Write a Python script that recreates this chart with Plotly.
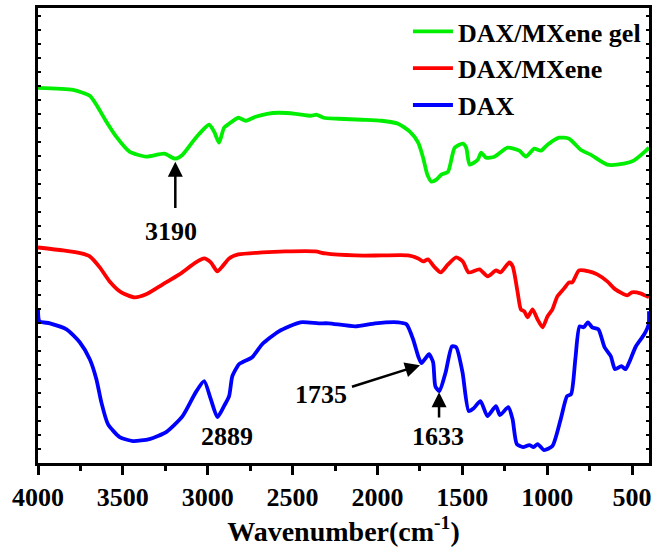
import plotly.graph_objects as go

# Wavenumbers (cm^-1) and transmittance (a.u., offset curves)
gel_wn = [4000, 3793, 3695, 3656, 3597, 3539, 3461, 3363, 3255, 3193, 3148, 3070, 2992, 2962, 2933, 2904,
          2874, 2820, 2776, 2718, 2650, 2581, 2483, 2395, 2357, 2317, 2229, 2093, 1976, 1878, 1809, 1760,
          1731, 1706, 1682, 1653, 1624, 1584, 1545, 1497, 1477, 1457, 1409, 1389, 1360, 1311, 1233, 1164,
          1125, 1076, 1037, 998, 930, 871, 803, 744, 646, 548, 490, 418, 400]
gel_t = [376, 374, 368, 359, 342, 327, 312, 307, 310, 305, 309, 326, 339, 332, 321, 336,
         340, 346, 343, 347, 350, 351, 350, 348, 349, 346, 345, 344, 343, 340, 332, 321,
         306, 289, 282, 284, 289, 292, 316, 320, 316, 299, 304, 311, 306, 307, 316, 313,
         307, 315, 313, 319, 326, 325, 314, 309, 299, 300, 303, 313, 316]

mx_wn = [4000, 3852, 3744, 3695, 3636, 3578, 3509, 3431, 3363, 3265, 3167, 3070, 3021, 2982, 2943, 2914,
         2874, 2820, 2679, 2542, 2366, 2307, 2131, 1976, 1819, 1760, 1731, 1702, 1662, 1627, 1584, 1536,
         1497, 1463, 1399, 1350, 1301, 1275, 1223, 1203, 1174, 1155, 1135, 1115, 1086, 1057, 1027, 998,
         969, 940, 900, 871, 852, 812, 754, 705, 646, 598, 529, 500, 451, 412, 400]
mx_t = [216, 213, 210, 207, 196, 182, 171, 166, 169, 179, 189, 201, 205, 201, 192, 197,
        205, 209, 211, 212, 212, 210, 208, 208, 208, 205, 202, 204, 196, 191, 199, 206,
        202, 191, 194, 187, 193, 191, 201, 197, 171, 154, 152, 146, 154, 144, 136, 147,
        154, 167, 175, 181, 181, 193, 192, 189, 182, 174, 168, 171, 170, 167, 166]

dax_wn = [4000, 3991, 3930, 3832, 3754, 3695, 3656, 3627, 3588, 3519, 3441, 3343, 3245, 3148, 3070, 3021,
          2982, 2943, 2904, 2874, 2855, 2816, 2796, 2738, 2679, 2581, 2454, 2347, 2288, 2131, 2014, 1878,
          1829, 1790, 1760, 1741, 1721, 1696, 1672, 1659, 1635, 1598, 1561, 1536, 1499, 1462, 1432, 1393,
          1352, 1302, 1278, 1229, 1204, 1179, 1142, 1105, 1080, 1056, 1019, 969, 920, 883, 859, 834,
          809, 785, 760, 735, 698, 662, 625, 600, 563, 538, 514, 477, 428, 402, 400]
dax_t = [155, 142, 140, 134, 121, 104, 84, 61, 39, 26, 22, 24, 31, 47, 71, 82,
         64, 46, 57, 67, 87, 99, 101, 106, 119, 132, 141, 140, 140, 137, 140, 141,
         139, 124, 107, 100, 104, 109, 101, 77, 72, 91, 117, 116, 91, 52, 55, 62,
         47, 57, 48, 56, 44, 19, 16, 18, 16, 19, 13, 17, 44, 67, 69, 104,
         137, 136, 141, 136, 134, 116, 107, 94, 97, 94, 102, 117, 129, 139, 152]

series = [
    ("DAX/MXene gel", gel_wn, gel_t, "#00ee00"),
    ("DAX/MXene", mx_wn, mx_t, "#ff0000"),
    ("DAX", dax_wn, dax_t, "#0000ff"),
]

tick_vals = [4000, 3500, 3000, 2500, 2000, 1500, 1000, 500]
tick_text = ["4000", "3500", "3000", "2500", "2000", "1500", "1000", "500"]

FONT = "Liberation Serif, Times New Roman, serif"

fig = go.Figure()
for name, wn, t, col in series:
    fig.add_trace(go.Scatter(x=wn, y=t, mode="lines", name=name,
                             line=dict(color=col, width=3.8, shape="spline", smoothing=0.6)))

ann_font = dict(family=FONT, size=26, color="black", weight="bold")
# labels
fig.add_annotation(x=3214, y=232, text="3190", showarrow=False, font=ann_font)
fig.add_annotation(x=2886, y=27, text="2889", showarrow=False, font=ann_font)
fig.add_annotation(x=2335, y=69, text="1735", showarrow=False, font=ann_font)
fig.add_annotation(x=1643, y=27, text="1633", showarrow=False, font=ann_font)
# arrows
arrow = dict(showarrow=True, arrowhead=2, arrowsize=1.2, arrowwidth=2.5, arrowcolor="black",
             axref="x", ayref="y", text="")
fig.add_annotation(x=3191, y=302, ax=3191, ay=254, **arrow)
fig.add_annotation(x=1749, y=98, ax=2159, ay=76, **arrow)
fig.add_annotation(x=1637, y=71, ax=1637, ay=44, **arrow)

fig.update_layout(
    width=657, height=548,
    margin=dict(l=38, r=5, t=8, b=85),
    paper_bgcolor="white", plot_bgcolor="white",
    font=dict(family=FONT, size=26, color="black", weight="bold"),
    showlegend=True,
    legend=dict(x=0.995, y=1.0, xanchor="right", yanchor="top", bgcolor="rgba(0,0,0,0)",
                font=dict(family=FONT, size=26, color="black", weight="bold"),
                tracegroupgap=0, itemwidth=40),
    xaxis=dict(range=[4000, 400], tickvals=tick_vals, ticktext=tick_text,
               showline=True, linewidth=3, linecolor="black", mirror=True,
               ticks="outside", ticklen=9, tickwidth=3, tickcolor="black",
               minor=dict(ticks="outside", ticklen=5, tickwidth=3, dtick=250, tick0=0, tickcolor="black"),
               showgrid=False, zeroline=False,
               tickfont=dict(family=FONT, size=26, color="black", weight="bold"),
               title=dict(text="Wavenumber(cm<sup>-1</sup>)", standoff=0,
                          font=dict(family=FONT, size=28, color="black", weight="bold"))),
    yaxis=dict(range=[0, 456], showticklabels=False, showgrid=False, zeroline=False,
               showline=True, linewidth=3, linecolor="black", mirror="allticks",
               ticks="inside", ticklen=3, tickwidth=2, tickcolor="black", dtick=14),
)

fig.write_html("out.html", config={"displayModeBar": False},
               post_script="document.body.style.margin='0';document.body.style.padding='0';")
